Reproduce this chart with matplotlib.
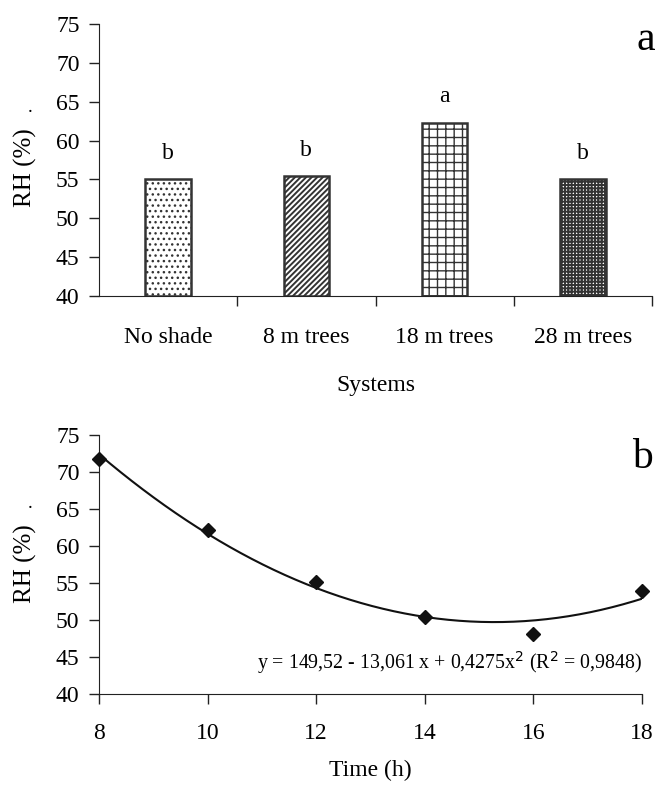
import numpy as np
import matplotlib.pyplot as plt
from matplotlib.colors import to_rgba

plt.rcParams['font.family'] = ['Liberation Serif', 'DejaVu Serif']
plt.rcParams['hatch.linewidth'] = 1.0

# panel a data
systems = ['No shade', '8 m trees', '18 m trees', '28 m trees']
rh_systems = [55.0, 55.4, 62.3, 55.0]
letters = ['b', 'b', 'a', 'b']
hatches = ['...', '//////', '++', '+++++']
hatch_lw = [1.0, 1.4, 1.0, 1.4]

# panel b data
hours = [8, 10, 12, 14, 16, 18]
rh_hours = [71.8, 62.2, 55.2, 50.4, 48.1, 53.9]
fit_label = 'y = 149,52 - 13,061 x + 0,4275x$^{2}$ (R$^{2}$ = 0,9848)'

W, H = 656, 788
fig = plt.figure(figsize=(W / 100, H / 100), dpi=100)
ax1 = fig.add_axes([99 / W, 1 - 296 / H, 553 / W, 272 / H])
ax2 = fig.add_axes([99 / W, 1 - 694 / H, 543 / W, 259 / H])

fs = 17

for ax in (ax1, ax2):
    ax.spines['top'].set_visible(False)
    ax.spines['right'].set_visible(False)
    ax.spines['left'].set_color('#222222')
    ax.spines['bottom'].set_color('#222222')
    ax.tick_params(axis='both', direction='out', length=7, width=1,
                   color='#222222', labelsize=fs)
    ax.tick_params(axis='y', pad=7)
    ax.set_ylim(40, 75)
    ax.set_yticks(range(40, 80, 5))

# y labels (RH and the stray dot)
fig.text(25 / W, 1 - 168 / H, 'RH (%)', rotation=90, ha='center',
         va='center', fontsize=18)
fig.text(30 / W, 1 - 108 / H, '.', ha='center', va='center', fontsize=14)
fig.text(25 / W, 1 - 564 / H, 'RH (%)', rotation=90, ha='center',
         va='center', fontsize=18)
fig.text(30 / W, 1 - 503 / H, '.', ha='center', va='center', fontsize=14)

# --- panel a ---
x = np.arange(len(systems))
for i in range(len(systems)):
    b = ax1.bar(x[i], rh_systems[i] - 40, bottom=40, width=0.33,
                color='white', edgecolor='#333333', linewidth=1.8,
                hatch=hatches[i])
    b[0]._hatch_color = to_rgba('#333333')
    if hasattr(b[0], 'set_hatch_linewidth'):
        b[0].set_hatch_linewidth(hatch_lw[i])
    ax1.text(x[i], rh_systems[i] + 2.0, letters[i], ha='center', va='bottom',
             fontsize=fs)
ax1.set_xlim(-0.5, len(systems) - 0.5)
ax1.set_xticks(x)
ax1.set_xticklabels(systems)
ax1.tick_params(axis='x', length=0, pad=22)
ax1.set_xticks(np.arange(0.5, len(systems), 1), minor=True)
ax1.tick_params(axis='x', which='minor', length=7, width=1, color='#222222')
ax1.set_xlabel('Systems', fontsize=fs, labelpad=20)
fig.text(0.998, 1 - 20 / H, 'a', ha='right', va='top', fontsize=30)

# --- panel b ---
coef = np.polyfit(hours, rh_hours, 2)
xs = np.linspace(hours[0], hours[-1], 200)
ax2.plot(xs, np.polyval(coef, xs), color='#111111', linewidth=1.5)
ax2.plot(hours, rh_hours, linestyle='none', marker='D', markersize=7,
         color='#111111', clip_on=False, zorder=3)
ax2.set_xlim(8, 18)
ax2.set_xticks(range(8, 20, 2))
ax2.tick_params(axis='x', pad=14)
ax2.set_xlabel('Time (h)', fontsize=fs, labelpad=11)
fig.text(0.995, 1 - 439 / H, 'b', ha='right', va='top', fontsize=30)
ax2.text(18, 44.2, fit_label, ha='right', va='center', fontsize=14.3)

fig.savefig('out.png', dpi=100)
